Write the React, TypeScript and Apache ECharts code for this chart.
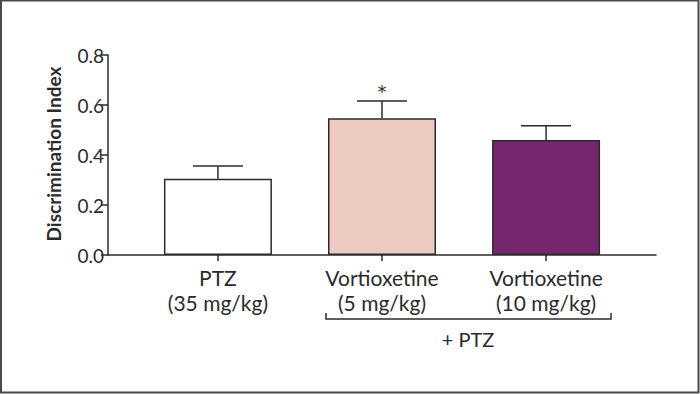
import React, { useEffect, useRef } from "react";
import * as echarts from "echarts";

const categories = ["PTZ\n(35 mg/kg)", "Vortioxetine\n(5 mg/kg)", "Vortioxetine\n(10 mg/kg)"];
const positions = [1, 2, 3];
const means = [0.305, 0.547, 0.46];
const sems = [0.051, 0.069, 0.057];
const significance = ["", "*", ""];
const barColors = ["#ffffff", "#eecbc2", "#76266f"];
const yTitle = "Discrimination Index";

const FONT = "Lato";
const INK = "#2b2b2b";

export default function App() {
  const ref = useRef<HTMLDivElement>(null);
  useEffect(() => {
    document.body.style.margin = "0";
    const chart = echarts.init(ref.current!, null, { renderer: "svg" });
    const barData = positions.map((p, i) => ({
      value: [p, means[i]],
      itemStyle: { color: barColors[i], borderColor: INK, borderWidth: 1.5 },
    }));
    const errData = positions.map((p, i) => [p, means[i], means[i] + sems[i], i]);
    chart.setOption({
      animation: false,
      backgroundColor: "#ffffff",
      grid: { left: 108, right: 44, top: 55, bottom: 139 },
      xAxis: {
        type: "value",
        min: 0.33,
        max: 3.67,
        splitLine: { show: false },
        axisLine: { show: true, onZero: false, lineStyle: { color: INK, width: 1.5 } },
        axisTick: { show: true, customValues: positions, length: 6, inside: false, lineStyle: { color: INK, width: 1.5 } },
        axisLabel: {
          customValues: positions,
          formatter: (v: number) => categories[positions.indexOf(Math.round(v))] ?? "",
          color: INK,
          fontFamily: FONT,
          fontSize: 21,
          lineHeight: 25,
          margin: 10,
        },
      },
      yAxis: {
        type: "value",
        min: 0,
        max: 0.8,
        interval: 0.2,
        splitLine: { show: false },
        axisLine: { show: true, lineStyle: { color: INK, width: 1.5 } },
        axisTick: { show: true, length: 7, lineStyle: { color: INK, width: 1.5 } },
        axisLabel: {
          formatter: (v: number) => v.toFixed(1),
          color: INK,
          fontFamily: FONT,
          fontSize: 19,
          margin: 4,
        },
      },
      series: [
        {
          type: "bar",
          data: barData,
          barWidth: 108,
        },
        {
          type: "custom",
          data: errData,
          z: 1,
          renderItem: (params: any, api: any) => {
            const x = api.value(0);
            const base = api.coord([x, api.value(1)]);
            const top = api.coord([x, api.value(2)]);
            const idx = api.value(3);
            const hw = 25;
            const children: any[] = [
              { type: "line", shape: { x1: base[0], y1: base[1], x2: top[0], y2: top[1] }, style: { stroke: INK, lineWidth: 1.5 } },
              { type: "line", shape: { x1: top[0] - hw, y1: top[1], x2: top[0] + hw, y2: top[1] }, style: { stroke: INK, lineWidth: 1.5 } },
            ];
            const s = significance[idx];
            if (s) {
              children.push({
                type: "text",
                x: top[0],
                y: top[1] - 19,
                style: { text: s, fill: INK, fontFamily: "DejaVu Sans", fontSize: 18, align: "center", verticalAlign: "top" },
              });
            }
            return { type: "group", children };
          },
        },
      ],
      graphic: [
        {
          type: "rect",
          shape: { x: 1, y: 0.5, width: 697.5, height: 392 },
          style: { fill: "none", stroke: "#4a4a4a", lineWidth: 2 },
          silent: true,
        },
        {
          type: "text",
          x: 53,
          y: 154,
          rotation: Math.PI / 2,
          style: { text: yTitle, fill: INK, fontFamily: FONT, fontSize: 19, fontWeight: "bold", align: "center", verticalAlign: "middle" },
        },
        {
          type: "polyline",
          shape: { points: [[326, 313], [326, 319], [611, 319], [611, 313]] },
          style: { fill: "none", stroke: INK, lineWidth: 1.5 },
        },
        {
          type: "text",
          x: 468,
          y: 339,
          style: { text: "+ PTZ", fill: INK, fontFamily: FONT, fontSize: 20, align: "center", verticalAlign: "middle" },
        },
      ],
    });
    return () => chart.dispose();
  }, []);
  return <div ref={ref} style={{ position: "absolute", left: 0, top: 0, width: 700, height: 394 }} />;
}
